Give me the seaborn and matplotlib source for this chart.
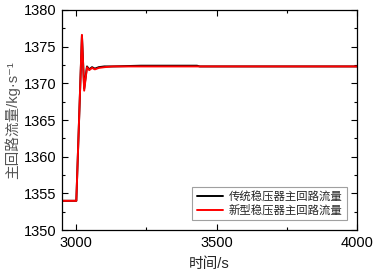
import matplotlib
matplotlib.use("Agg")
import matplotlib.pyplot as plt
import pandas as pd
import seaborn as sns
from matplotlib.ticker import MultipleLocator

# time (s) and main loop flow (kg/s)
t_old = [2950, 3000, 3020, 3028, 3038, 3046, 3056, 3066, 3080, 3100, 3130, 3230, 3430, 3440, 4000]
flow_old = [1354.0, 1354.0, 1376.5, 1369.3, 1372.3, 1371.9, 1372.2, 1372.0, 1372.2, 1372.3, 1372.3, 1372.4, 1372.4, 1372.3, 1372.3]
t_new = [2950, 3000, 3020, 3028, 3038, 3046, 3056, 3066, 3080, 3100, 3130, 3230, 3430, 3440, 4000]
flow_new = [1354.0, 1354.0, 1376.6, 1369.0, 1372.2, 1371.8, 1372.1, 1371.9, 1372.1, 1372.2, 1372.3, 1372.3, 1372.3, 1372.3, 1372.3]
labels = ["传统稳压器主回路流量", "新型稳压器主回路流量"]

sns.set_theme(style="ticks")
plt.rcParams["font.family"] = ["Liberation Sans", "Noto Sans CJK SC", "DejaVu Sans"]
plt.rcParams["axes.unicode_minus"] = False

df = pd.concat([
    pd.DataFrame({"t": t_old, "flow": flow_old, "series": labels[0]}),
    pd.DataFrame({"t": t_new, "flow": flow_new, "series": labels[1]}),
])

fig, ax = plt.subplots(figsize=(3.73, 2.75), dpi=100)
sns.lineplot(data=df, x="t", y="flow", hue="series", palette=["black", "#ff0000"],
             linewidth=1.4, ax=ax, estimator=None, sort=False)

ax.set_xlim(2950, 4000)
ax.set_ylim(1350, 1380)
ax.xaxis.set_major_locator(MultipleLocator(500))
ax.xaxis.set_minor_locator(MultipleLocator(250))
ax.yaxis.set_major_locator(MultipleLocator(5))
ax.yaxis.set_minor_locator(MultipleLocator(2.5))
ax.tick_params(which="both", direction="in", top=True, right=True, labelsize=10.5, colors="black")
ax.tick_params(which="major", length=4, width=0.8, pad=4)
ax.tick_params(which="minor", length=2.5, width=0.8)
for s in ax.spines.values():
    s.set_linewidth(0.9)
    s.set_color("black")

ax.set_xlabel("时间/s", fontsize=10.5, labelpad=5)
ax.set_ylabel("主回路流量/kg·s⁻¹", fontsize=10.5, labelpad=3, color="#555555")

leg = ax.legend(loc="lower right", frameon=True, fancybox=False,
                edgecolor="#888888", handlelength=2.3, borderpad=0.4, labelspacing=0.2,
                handletextpad=0.5, borderaxespad=0, bbox_to_anchor=(0.966, 0.045),
                prop={"family": ["Noto Sans CJK SC"], "size": 8.2})
leg.get_frame().set_linewidth(0.8)

fig.subplots_adjust(left=0.167, right=0.957, top=0.964, bottom=0.163)
fig.savefig("out.png", dpi=100)
